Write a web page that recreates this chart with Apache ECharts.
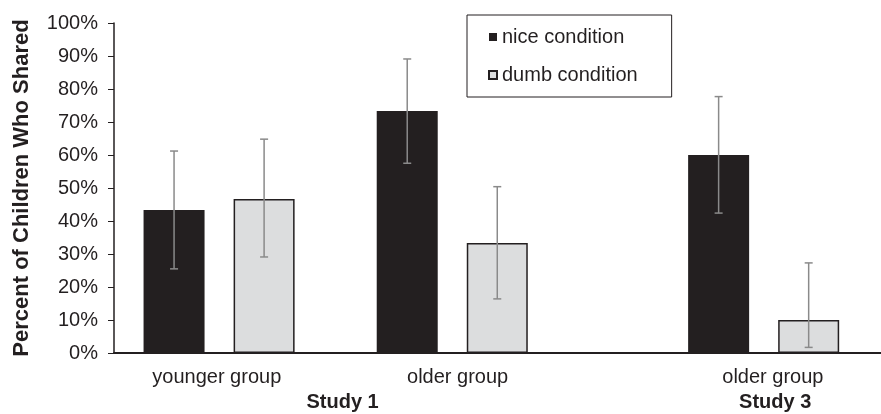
<!DOCTYPE html>
<html>
<head>
<meta charset="utf-8">
<title>Percent of Children Who Shared</title>
<script src="https://cdn.jsdelivr.net/npm/echarts@6/dist/echarts.min.js"></script>
<style>
  html, body { margin: 0; padding: 0; background: #fff; }
  #chart { width: 881px; height: 414px; }
</style>
</head>
<body>
<div id="chart"></div>
<script>
// groups along the x axis (value axis, 0-100 across the plot)
var groups = ['younger group', 'older group', 'older group'];
var groupX = [13.7, 44.1, 84.7];
var groupLabelX = [13.4, 44.8, 85.9];
var studies = ['Study 1', 'Study 3'];
var studyX = [29.8, 86.2];

// percent who shared
var nice = [43.3, 73.3, 60];
var niceLow = [25.5, 57.5, 42.4];
var niceHigh = [61.2, 89.1, 77.7];
var dumb = [46.7, 33.3, 10];
var dumbLow = [29.1, 16.4, 1.7];
var dumbHigh = [64.8, 50.4, 27.3];

var yTicks = [0, 10, 20, 30, 40, 50, 60, 70, 80, 90, 100];

var half = 5.87; // distance from group centre to each bar centre
var font = 'Liberation Sans, Arial, sans-serif';
var ink = '#231f20';

function barData(vals, sign) {
  return vals.map(function (v, i) { return [groupX[i] + sign * half, v]; });
}
function errData(lo, hi, sign) {
  return lo.map(function (v, i) { return [groupX[i] + sign * half, v, hi[i]]; });
}
function lookup(xs, names) {
  return function (v) {
    for (var i = 0; i < xs.length; i++) {
      if (Math.abs(xs[i] - v) < 1e-6) return names[i];
    }
    return '';
  };
}

function renderErr(params, api) {
  var x = api.value(0);
  var top = api.coord([x, api.value(2)]);
  var bot = api.coord([x, api.value(1)]);
  var st = { stroke: '#8a8a8a', lineWidth: 1.5 };
  return {
    type: 'group',
    children: [
      { type: 'line', shape: { x1: top[0], y1: top[1], x2: bot[0], y2: bot[1] }, style: st },
      { type: 'line', shape: { x1: top[0] - 4, y1: top[1], x2: top[0] + 4, y2: top[1] }, style: st },
      { type: 'line', shape: { x1: bot[0] - 4, y1: bot[1], x2: bot[0] + 4, y2: bot[1] }, style: st }
    ]
  };
}

var chart = echarts.init(document.getElementById('chart'));
var option = {
  animation: false,
  textStyle: { fontFamily: font },
  grid: { left: 114, right: 0, top: 23, bottom: 61 },
  legend: {
    orient: 'vertical',
    left: 467,
    top: 15,
    padding: [12, 34, 12, 21],
    itemGap: 18,
    itemWidth: 8,
    itemHeight: 8,
    borderColor: ink,
    borderWidth: 1,
    textStyle: { fontSize: 20, color: ink, fontFamily: font },
    data: [
      { name: 'nice condition', icon: 'rect' },
      { name: 'dumb condition', icon: 'rect' }
    ]
  },
  xAxis: [
    {
      type: 'value',
      min: 0,
      max: 100,
      splitLine: { show: false },
      axisTick: { show: false },
      axisLine: { show: true, lineStyle: { color: ink, width: 2 } },
      axisLabel: {
        customValues: groupLabelX,
        fontSize: 20,
        color: ink,
        margin: 14,
        formatter: lookup(groupLabelX, groups)
      }
    },
    {
      type: 'value',
      min: 0,
      max: 100,
      position: 'bottom',
      offset: 25,
      splitLine: { show: false },
      axisTick: { show: false },
      axisLine: { show: false },
      axisLabel: {
        customValues: studyX,
        fontSize: 20,
        fontWeight: 'bold',
        color: ink,
        margin: 14,
        formatter: lookup(studyX, studies)
      }
    }
  ],
  yAxis: {
    type: 'value',
    min: 0,
    max: 100,
    interval: 10,
    name: 'Percent of Children Who Shared',
    nameLocation: 'middle',
    nameRotate: 90,
    nameGap: 81,
    nameTextStyle: { fontSize: 22, fontWeight: 'bold', color: ink },
    splitLine: { show: false },
    axisLine: { show: true, lineStyle: { color: ink, width: 1.5 } },
    axisTick: { show: true, length: 6, lineStyle: { color: ink } },
    axisLabel: {
      fontSize: 20,
      color: ink,
      margin: 16,
      formatter: function (v) { return yTicks.indexOf(v) >= 0 ? v + '%' : ''; }
    }
  },
  series: [
    {
      name: 'nice condition',
      type: 'bar',
      barWidth: 61,
      barGap: '-100%',
      itemStyle: { color: ink },
      data: barData(nice, -1)
    },
    {
      name: 'dumb condition',
      type: 'bar',
      barWidth: 61,
      barGap: '-100%',
      itemStyle: { color: '#dcddde', borderColor: ink, borderWidth: 1.5 },
      data: barData(dumb, 1)
    },
    {
      type: 'custom',
      z: 5,
      renderItem: renderErr,
      encode: { x: 0, y: [1, 2] },
      data: errData(niceLow, niceHigh, -1).concat(errData(dumbLow, dumbHigh, 1))
    }
  ]
};
chart.setOption(option);
</script>
</body>
</html>
